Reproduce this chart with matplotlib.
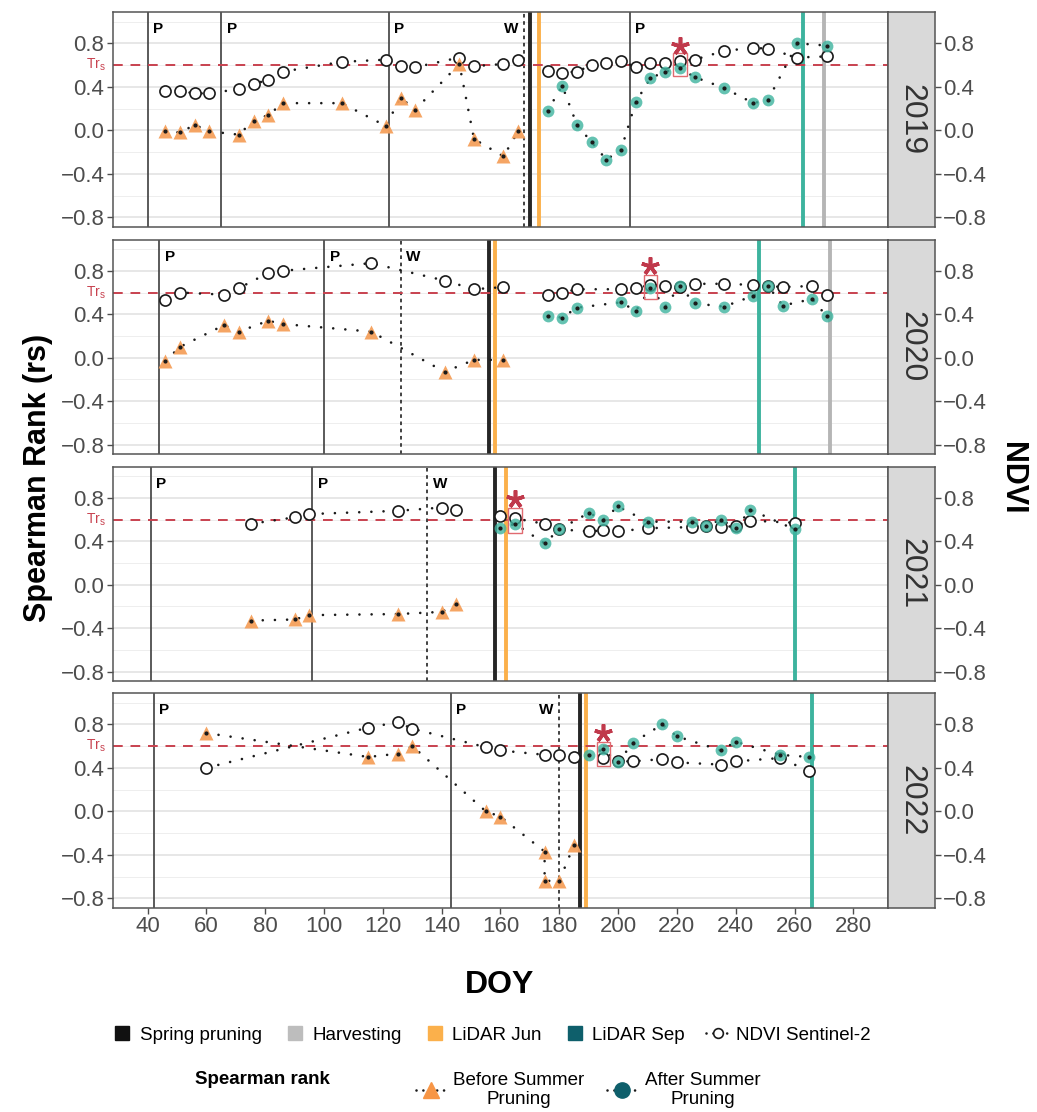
import matplotlib
matplotlib.use('Agg')
import matplotlib.pyplot as plt
from matplotlib.lines import Line2D
from matplotlib.patches import Rectangle

plt.rcParams['font.family'] = ['Liberation Sans', 'DejaVu Sans']

# ---------------- data ----------------
years = [2019, 2020, 2021, 2022]

# 2019
ndvi_b_doy_2019 = [46, 51, 56, 61, 71, 76, 81, 86, 106, 121, 126, 131, 146, 151, 161, 166]
ndvi_b_2019 = [0.36, 0.36, 0.34, 0.34, 0.38, 0.43, 0.46, 0.54, 0.63, 0.65, 0.59, 0.58, 0.67, 0.59, 0.61, 0.65]
rs_b_doy_2019 = [46, 51, 56, 61, 71, 76, 81, 86, 106, 121, 126, 131, 146, 151, 161, 166]
rs_b_2019 = [-0.01, -0.02, 0.05, -0.01, -0.04, 0.09, 0.14, 0.25, 0.25, 0.04, 0.30, 0.19, 0.61, -0.08, -0.24, -0.01]
ndvi_a_doy_2019 = [176, 181, 186, 191, 196, 201, 206, 211, 216, 221, 226, 236, 246, 251, 261, 271]
ndvi_a_2019 = [0.55, 0.53, 0.54, 0.60, 0.62, 0.64, 0.58, 0.62, 0.62, 0.64, 0.65, 0.73, 0.76, 0.75, 0.67, 0.68]
rs_a_doy_2019 = [176, 181, 186, 191, 196, 201, 206, 211, 216, 221, 226, 236, 246, 251, 261, 271]
rs_a_2019 = [0.18, 0.41, 0.05, -0.11, -0.27, -0.18, 0.26, 0.48, 0.54, 0.57, 0.49, 0.39, 0.25, 0.28, 0.80, 0.78]

# 2020
ndvi_b_doy_2020 = [46, 51, 66, 71, 81, 86, 116, 141, 151, 161]
ndvi_b_2020 = [0.53, 0.60, 0.58, 0.64, 0.78, 0.80, 0.87, 0.71, 0.63, 0.65]
rs_b_doy_2020 = [46, 51, 66, 71, 81, 86, 116, 141, 151, 161]
rs_b_2020 = [-0.03, 0.10, 0.30, 0.24, 0.34, 0.31, 0.24, -0.13, -0.02, -0.02]
ndvi_a_doy_2020 = [176, 181, 186, 201, 206, 211, 216, 221, 226, 236, 246, 251, 256, 266, 271]
ndvi_a_2020 = [0.58, 0.60, 0.63, 0.63, 0.64, 0.67, 0.66, 0.65, 0.68, 0.68, 0.67, 0.66, 0.65, 0.66, 0.58]
rs_a_doy_2020 = [176, 181, 186, 201, 206, 211, 216, 221, 226, 236, 246, 251, 256, 266, 271]
rs_a_2020 = [0.38, 0.37, 0.46, 0.51, 0.43, 0.64, 0.47, 0.66, 0.50, 0.47, 0.57, 0.66, 0.48, 0.54, 0.38]

# 2021
ndvi_b_doy_2021 = [75, 90, 95, 125, 140, 145]
ndvi_b_2021 = [0.56, 0.62, 0.65, 0.68, 0.71, 0.69]
rs_b_doy_2021 = [75, 90, 95, 125, 140, 145]
rs_b_2021 = [-0.33, -0.32, -0.28, -0.27, -0.25, -0.18]
ndvi_a_doy_2021 = [160, 165, 175, 180, 190, 195, 200, 210, 225, 230, 235, 240, 245, 260]
ndvi_a_2021 = [0.63, 0.61, 0.56, 0.51, 0.49, 0.50, 0.49, 0.52, 0.53, 0.54, 0.53, 0.54, 0.59, 0.57]
rs_a_doy_2021 = [160, 165, 175, 180, 190, 195, 200, 210, 225, 230, 235, 240, 245, 260]
rs_a_2021 = [0.52, 0.56, 0.38, 0.51, 0.66, 0.60, 0.72, 0.58, 0.58, 0.54, 0.60, 0.52, 0.69, 0.51]

# 2022
ndvi_b_doy_2022 = [60, 115, 125, 130, 155, 160, 175, 180, 185]
ndvi_b_2022 = [0.40, 0.77, 0.82, 0.76, 0.59, 0.56, 0.52, 0.52, 0.50]
rs_b_doy_2022 = [60, 115, 125, 130, 155, 160, 175, 175, 180, 185]
rs_b_2022 = [0.72, 0.50, 0.53, 0.60, 0.00, -0.05, -0.37, -0.64, -0.64, -0.31]
ndvi_a_doy_2022 = [195, 200, 205, 215, 220, 235, 240, 255, 265]
ndvi_a_2022 = [0.49, 0.46, 0.46, 0.48, 0.45, 0.43, 0.46, 0.49, 0.37]
rs_a_doy_2022 = [190, 195, 200, 205, 215, 220, 235, 240, 255, 265]
rs_a_2022 = [0.52, 0.57, 0.45, 0.63, 0.80, 0.69, 0.56, 0.64, 0.52, 0.50]

# events (DOY)
p_lines = [[40, 65, 122, 204], [44, 100], [41, 96], [42, 143]]
w_line = [168, 126, 135, 180]
w_label_side = ['left', 'right', 'right', 'left']
spring_pruning = [170, 156, 158, 187]
lidar_jun = [173, 158, 162, 189]
lidar_sep = [263, 248, 260, 266]
harvesting = [270, 272, None, None]

# highlighted (boxed) dates
box_doy = [221, 211, 165, 195]
box_low = [0.50, 0.54, 0.48, 0.42]
box_high = [0.71, 0.765, 0.71, 0.64]
star_y = [0.78, 0.84, 0.79, 0.72]

threshold_rs = 0.6
ytick_vals = [-0.8, -0.4, 0.0, 0.4, 0.8]
ytick_labels = ['\u22120.8', '\u22120.4', '0.0', '0.4', '0.8']
yminor_vals = [-0.6, -0.2, 0.2, 0.6, 1.0]
xtick_vals = [40, 60, 80, 100, 120, 140, 160, 180, 200, 220, 240, 260, 280]
legend_row1 = ['Spring pruning', 'Harvesting', 'LiDAR Jun', 'LiDAR Sep', 'NDVI Sentinel-2']
legend_row2 = ['Before Summer\nPruning', 'After Summer\nPruning']

series = {
    2019: (ndvi_b_doy_2019, ndvi_b_2019, rs_b_doy_2019, rs_b_2019, ndvi_a_doy_2019, ndvi_a_2019, rs_a_doy_2019, rs_a_2019),
    2020: (ndvi_b_doy_2020, ndvi_b_2020, rs_b_doy_2020, rs_b_2020, ndvi_a_doy_2020, ndvi_a_2020, rs_a_doy_2020, rs_a_2020),
    2021: (ndvi_b_doy_2021, ndvi_b_2021, rs_b_doy_2021, rs_b_2021, ndvi_a_doy_2021, ndvi_a_2021, rs_a_doy_2021, rs_a_2021),
    2022: (ndvi_b_doy_2022, ndvi_b_2022, rs_b_doy_2022, rs_b_2022, ndvi_a_doy_2022, ndvi_a_2022, rs_a_doy_2022, rs_a_2022),
}

# ---------------- style ----------------
C_ORANGE_PT = '#F5A05C'
C_TEAL_PT = '#3DB39E'
C_JUN = '#FBB04B'
C_SEP = '#3DB39E'
C_SPRING = '#262626'
C_HARV = '#B5B5B5'
C_RED = '#C8424F'
C_DOT = '#1a1a1a'
C_TICK = '#4D4D4D'
DOTTED = (0, (0.01, 4.6))

W, H = 1037, 1112
fig = plt.figure(figsize=(W / 100, H / 100), dpi=100)

panel_top = [12.3, 239.7, 466.7, 693.3]
panel_h = 214.4
ax_l, ax_r, strip_r = 112.7, 888.3, 935.0
XLIM = (28.1, 291.9)
YLIM = (-0.887, 1.086)


def dotted(ax, xs, ys):
    ax.plot(xs, ys, color=C_DOT, lw=1.9, ls=DOTTED, dash_capstyle='round', zorder=3)


for i, yr in enumerate(years):
    bottom = 1 - (panel_top[i] + panel_h) / H
    ax = fig.add_axes([ax_l / W, bottom, (ax_r - ax_l) / W, panel_h / H])
    sax = fig.add_axes([ax_r / W, bottom, (strip_r - ax_r) / W, panel_h / H])

    ax.set_xlim(*XLIM)
    ax.set_ylim(*YLIM)
    ax.set_yticks(ytick_vals)
    ax.set_yticklabels(ytick_labels)
    ax.set_yticks(yminor_vals, minor=True)
    ax.grid(axis='y', which='major', color='#E3E3E3', lw=1.2, zorder=0)
    ax.grid(axis='y', which='minor', color='#EEEEEE', lw=0.7, zorder=0)
    ax.set_axisbelow(True)
    ax.tick_params(axis='y', which='major', length=4, width=1.0, color=C_TICK,
                   labelsize=16, labelcolor=C_TICK, pad=2)
    ax.tick_params(axis='y', which='minor', length=0)
    ax.set_xticks(xtick_vals)
    if i == 3:
        ax.tick_params(axis='x', length=4, width=1.0, color=C_TICK, labelsize=16,
                       labelcolor=C_TICK, pad=2)
    else:
        ax.tick_params(axis='x', length=0, labelbottom=False)
    for s in ax.spines.values():
        s.set_color('#555555')
        s.set_linewidth(1.1)

    # strip + right axis
    sax.set_facecolor('#D9D9D9')
    sax.set_ylim(*YLIM)
    sax.set_xticks([])
    sax.yaxis.tick_right()
    sax.set_yticks(ytick_vals)
    sax.set_yticklabels(ytick_labels)
    sax.tick_params(axis='y', length=4, width=1.0, color=C_TICK, labelsize=16,
                    labelcolor=C_TICK, pad=2)
    for s in sax.spines.values():
        s.set_color('#555555')
        s.set_linewidth(1.1)
    sax.text(0.5, 0.5, str(yr), rotation=270, ha='center', va='center',
             transform=sax.transAxes, fontsize=23, color='#333333')

    # event lines
    for p in p_lines[i]:
        ax.axvline(p, color='#4D4D4D', lw=1.3, zorder=1)
        ax.text(p + 1.9, 0.93, 'P', fontsize=11, fontweight='bold', ha='left', va='center', zorder=7)
    ax.axvline(w_line[i], color='#333333', lw=1.3, ls=(0, (2, 2)), zorder=1)
    if w_label_side[i] == 'left':
        ax.text(w_line[i] - 1.9, 0.93, 'W', fontsize=11, fontweight='bold', ha='right', va='center', zorder=7)
    else:
        ax.text(w_line[i] + 1.9, 0.93, 'W', fontsize=11, fontweight='bold', ha='left', va='center', zorder=7)
    ax.axvline(spring_pruning[i], color=C_SPRING, lw=2.8, zorder=2)
    ax.axvline(lidar_jun[i], color=C_JUN, lw=2.8, zorder=2)
    ax.axvline(lidar_sep[i], color=C_SEP, lw=2.8, zorder=2)
    if harvesting[i] is not None:
        ax.axvline(harvesting[i], color=C_HARV, lw=2.8, zorder=2)

    # threshold
    ax.axhline(threshold_rs, color=C_RED, lw=1.4, ls=(0, (5, 4)), zorder=2)
    ax.text(-0.009, threshold_rs, r'$\mathregular{Tr_s}$', color=C_RED, fontsize=10,
            ha='right', va='center', transform=ax.get_yaxis_transform(), clip_on=False)

    nbd, nb, rbd, rb, nad, na, rad, ra = series[yr]
    for xs, ys in [(nbd, nb), (rbd, rb), (nad, na), (rad, ra)]:
        dotted(ax, xs, ys)
    # NDVI circles
    for xs, ys in [(nbd, nb), (nad, na)]:
        ax.plot(xs, ys, 'o', ms=8, mfc='white', mec=C_DOT, mew=1.2, ls='none', zorder=4)
    # before summer pruning
    ax.plot(rbd, rb, '^', ms=10, color=C_ORANGE_PT, mec='none', alpha=0.95, ls='none', zorder=5)
    ax.plot(rbd, rb, 'o', ms=2, color=C_DOT, ls='none', zorder=6)
    # after summer pruning
    ax.plot(rad, ra, 'o', ms=8.5, color=C_TEAL_PT, mec='none', alpha=0.8, ls='none', zorder=5)
    ax.plot(rad, ra, 'o', ms=2, color=C_DOT, ls='none', zorder=6)

    # highlight box and star
    ax.add_patch(Rectangle((box_doy[i] - 2.3, box_low[i]), 4.6, box_high[i] - box_low[i],
                           fill=False, ec='#E06A70', lw=1.0, zorder=6))
    ax.plot([box_doy[i]], [star_y[i]], marker=(5, 2, 0), ms=13, mew=2.6, color='#C0394B',
            ls='none', zorder=7)

# axis titles
fig.text(38 / W, 1 - 478 / H, 'Spearman Rank (rs)', rotation=90, ha='center', va='center',
         fontsize=22, fontweight='bold')
fig.text(1012 / W, 1 - 478 / H, 'NDVI', rotation=270, ha='center', va='center',
         fontsize=22, fontweight='bold')
fig.text(500 / W, 1 - 985 / H, 'DOY', ha='center', va='center', fontsize=23, fontweight='bold')

# legend row 1
h1 = [Line2D([], [], marker='s', ls='none', color='#111111', ms=10),
      Line2D([], [], marker='s', ls='none', color='#BDBDBD', ms=10),
      Line2D([], [], marker='s', ls='none', color=C_JUN, ms=10),
      Line2D([], [], marker='s', ls='none', color='#0E5F6B', ms=10),
      Line2D([], [], marker='o', mfc='white', mec=C_DOT, mew=1.2, ms=7, color=C_DOT,
             lw=1.9, ls=(0, (0.01, 2.6)), dash_capstyle='round')]
leg1 = fig.legend(h1, legend_row1, loc='center', bbox_to_anchor=(490 / W, 1 - 1035 / H), ncol=5,
                  frameon=False, fontsize=13.5, handlelength=1.3, handletextpad=0.3,
                  columnspacing=1.1, borderaxespad=0)

fig.text(262 / W, 1 - 1080 / H, 'Spearman rank', ha='center', va='center', fontsize=13.5,
         fontweight='bold')
h2 = [Line2D([], [], marker='^', color=C_DOT, mfc='#F79646', mec='#F79646', ms=11,
             lw=1.9, ls=(0, (0.01, 2.6)), dash_capstyle='round'),
      Line2D([], [], marker='o', color=C_DOT, mfc='#0E5F6B', mec='#0E5F6B', ms=11,
             lw=1.9, ls=(0, (0.01, 2.6)), dash_capstyle='round')]
leg2 = fig.legend(h2, legend_row2, loc='center', bbox_to_anchor=(588 / W, 1 - 1090 / H), ncol=2,
                  frameon=False, fontsize=13.5, handlelength=1.6, handletextpad=0.4,
                  columnspacing=1.2, borderaxespad=0)
for t in leg2.get_texts():
    t.set_multialignment('center')

fig.savefig('out.png', dpi=100)
